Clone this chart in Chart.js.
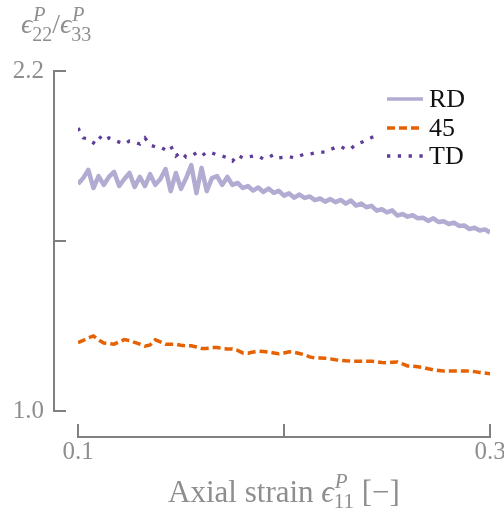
<!DOCTYPE html>
<html>
<head>
<meta charset="utf-8">
<script src="https://cdn.jsdelivr.net/npm/chart.js@4/dist/chart.umd.min.js"></script>
<style>
  html, body { margin: 0; padding: 0; background: #ffffff; }
  #wrap { width: 504px; height: 512px; }
</style>
</head>
<body>
<div id="wrap"><canvas id="c" width="504" height="512"></canvas></div>
<script>
// Axial plastic strain samples
const strain = [
  0.1000, 0.1025, 0.1050, 0.1075, 0.1100, 0.1125, 0.1150, 0.1175, 0.1200, 0.1225,
  0.1250, 0.1275, 0.1300, 0.1325, 0.1350, 0.1375, 0.1400, 0.1425, 0.1450, 0.1475,
  0.1500, 0.1525, 0.1550, 0.1575, 0.1600, 0.1625, 0.1650, 0.1675, 0.1700, 0.1725,
  0.1750, 0.1775, 0.1800, 0.1825, 0.1850, 0.1875, 0.1900, 0.1925, 0.1950, 0.1975,
  0.2000, 0.2025, 0.2050, 0.2075, 0.2100, 0.2125, 0.2150, 0.2175, 0.2200, 0.2225,
  0.2250, 0.2275, 0.2300, 0.2325, 0.2350, 0.2375, 0.2400, 0.2425, 0.2450, 0.2475,
  0.2500, 0.2525, 0.2550, 0.2575, 0.2600, 0.2625, 0.2650, 0.2675, 0.2700, 0.2725,
  0.2750, 0.2775, 0.2800, 0.2825, 0.2850, 0.2875, 0.2900, 0.2925, 0.2950, 0.2975,
  0.3000
];

// Strain ratio eps22/eps33 per loading direction
const rd = [
  1.801, 1.822, 1.851, 1.787, 1.829, 1.798, 1.826, 1.844, 1.794, 1.819,
  1.840, 1.791, 1.826, 1.794, 1.836, 1.798, 1.819, 1.854, 1.776, 1.840,
  1.784, 1.822, 1.868, 1.769, 1.858, 1.776, 1.822, 1.829, 1.798, 1.826,
  1.798, 1.805, 1.787, 1.794, 1.778, 1.789, 1.773, 1.785, 1.770, 1.777,
  1.760, 1.768, 1.753, 1.764, 1.752, 1.757, 1.744, 1.750, 1.739, 1.748,
  1.737, 1.745, 1.732, 1.743, 1.725, 1.732, 1.719, 1.724, 1.707, 1.712,
  1.701, 1.708, 1.690, 1.695, 1.686, 1.691, 1.680, 1.682, 1.671, 1.680,
  1.667, 1.670, 1.660, 1.665, 1.653, 1.655, 1.642, 1.647, 1.637, 1.641,
  1.630
];
const deg45 = [
  1.241, 1.249, 1.258, 1.265, 1.251, 1.240, 1.238, 1.236, 1.244, 1.252,
  1.249, 1.242, 1.236, 1.229, 1.233, 1.251, 1.244, 1.236, 1.236, 1.236,
  1.232, 1.230, 1.230, 1.226, 1.221, 1.221, 1.224, 1.224, 1.221, 1.219,
  1.219, 1.214, 1.205, 1.204, 1.208, 1.211, 1.210, 1.208, 1.205, 1.202,
  1.205, 1.209, 1.207, 1.203, 1.198, 1.191, 1.187, 1.187, 1.186, 1.184,
  1.181, 1.179, 1.177, 1.176, 1.176, 1.176, 1.176, 1.176, 1.174, 1.171,
  1.170, 1.172, 1.173, 1.166, 1.159, 1.158, 1.156, 1.154, 1.149, 1.145,
  1.143, 1.141, 1.141, 1.141, 1.141, 1.141, 1.141, 1.139, 1.136, 1.134,
  1.131
];
const td = [
  1.999, 1.964, 1.960, 1.946, 1.971, 1.953, 1.964, 1.956, 1.949, 1.942,
  1.953, 1.949, 1.942, 1.964, 1.939, 1.932, 1.932, 1.921, 1.935, 1.900,
  1.914, 1.896, 1.900, 1.911, 1.900, 1.914, 1.911, 1.904, 1.900, 1.893,
  1.882, 1.904, 1.893, 1.896, 1.900, 1.900, 1.889, 1.895, 1.905, 1.893,
  1.896, 1.898, 1.893, 1.900, 1.907, 1.907, 1.911, 1.914, 1.914, 1.923,
  1.930, 1.934, 1.923, 1.926, 1.942, 1.948, 1.956, 1.965, 1.972
];

const seriesNames = ['RD', '45', 'TD'];
const xTicks = [0.1, 0.2, 0.3];
const xTickLabels = ['0.1', '', '0.3'];
const yTicks = [1.0, 1.6, 2.2];
const yTickLabels = ['1.0', '', '2.2'];

const SERIF = '"Liberation Serif", "DejaVu Serif", serif';
const GREY_TEXT = '#8e8e8e';
const GREY_AXIS = '#808080';

function pairs(values) {
  return values.map((v, i) => ({ x: strain[i], y: v }));
}

// Offset spines with inward ticks
const spinePlugin = {
  id: 'spines',
  afterDraw(chart) {
    const { ctx, chartArea, scales } = chart;
    const xs = scales.x, ys = scales.y;
    ctx.save();
    ctx.strokeStyle = GREY_AXIS;
    ctx.lineWidth = 2;
    ctx.lineCap = 'square';
    const yx = chartArea.left - 24;
    ctx.beginPath();
    ctx.moveTo(yx, ys.getPixelForValue(yTicks[yTicks.length - 1]));
    ctx.lineTo(yx, ys.getPixelForValue(yTicks[0]));
    yTicks.forEach(v => {
      const p = ys.getPixelForValue(v);
      ctx.moveTo(yx, p);
      ctx.lineTo(yx + 11, p);
    });
    const xy = chartArea.bottom + 26;
    ctx.moveTo(xs.getPixelForValue(xTicks[0]), xy);
    ctx.lineTo(xs.getPixelForValue(xTicks[xTicks.length - 1]), xy);
    xTicks.forEach(v => {
      const p = xs.getPixelForValue(v);
      ctx.moveTo(p, xy);
      ctx.lineTo(p, xy - 12);
    });
    ctx.stroke();
    ctx.restore();
  }
};

// Writes a run of text pieces, with optional super/subscript stacks
function drawMath(ctx, pieces, x, y, measureOnly) {
  let cx = x;
  pieces.forEach(p => {
    if (p.t !== undefined) {
      ctx.font = (p.italic ? 'italic ' : '') + p.size + 'px ' + SERIF;
      if (!measureOnly) ctx.fillText(p.t, cx, y);
      cx += ctx.measureText(p.t).width;
    } else {
      ctx.font = 'italic ' + p.size + 'px ' + SERIF;
      const wSup = ctx.measureText(p.sup).width;
      if (!measureOnly) ctx.fillText(p.sup, cx + (p.supShift || 0), y + p.supDy);
      ctx.font = p.size + 'px ' + SERIF;
      const wSub = ctx.measureText(p.sub).width;
      if (!measureOnly) ctx.fillText(p.sub, cx, y + p.subDy);
      cx += Math.max(wSup + (p.supShift || 0), wSub);
    }
  });
  return cx - x;
}

const titlePlugin = {
  id: 'axisTitles',
  afterDraw(chart) {
    const { ctx, scales } = chart;
    ctx.save();
    ctx.fillStyle = GREY_TEXT;
    ctx.textBaseline = 'alphabetic';
    ctx.textAlign = 'left';
    // y-axis title
    const yTitle = [
      { t: '\u03F5', size: 28, italic: true },
      { sup: 'P', sub: '22', size: 20, supDy: -12, subDy: 8, supShift: 1 },
      { t: '/', size: 28 },
      { t: '\u03F5', size: 28, italic: true },
      { sup: 'P', sub: '33', size: 20, supDy: -12, subDy: 8, supShift: 1 }
    ];
    drawMath(ctx, yTitle, 21, 33);
    // x-axis title, centred under the axis
    const xTitle = [
      { t: 'Axial strain ', size: 31 },
      { t: '\u03F5', size: 31, italic: true },
      { sup: 'P', sub: '11', size: 21, supDy: -14, subDy: 6, supShift: 1 },
      { t: ' [\u2212]', size: 31 }
    ];
    const w = drawMath(ctx, xTitle, 0, 0, true);
    const cx = scales.x.getPixelForValue(0.2);
    drawMath(ctx, xTitle, cx - w / 2, 502);
    ctx.restore();
  }
};

// Legend drawn inside the plot area, top right
const legendPlugin = {
  id: 'insideLegend',
  afterDraw(chart) {
    const { ctx, chartArea } = chart;
    const x0 = chartArea.right - 103, x1 = chartArea.right - 67;
    const tx = chartArea.right - 61;
    const baselines = [chartArea.top + 36, chartArea.top + 65, chartArea.top + 93];
    ctx.save();
    chart.data.datasets.forEach((ds, i) => {
      const yLine = baselines[i] - 8;
      ctx.strokeStyle = ds.borderColor;
      ctx.lineWidth = Math.min(ds.borderWidth, 3.5);
      ctx.lineCap = 'butt';
      ctx.setLineDash(ds.borderDash || []);
      ctx.beginPath();
      ctx.moveTo(x0, yLine);
      ctx.lineTo(x1, yLine);
      ctx.stroke();
      ctx.setLineDash([]);
      ctx.fillStyle = '#111111';
      ctx.font = '26px ' + SERIF;
      ctx.textBaseline = 'alphabetic';
      ctx.fillText(ds.label, tx, baselines[i]);
    });
    ctx.restore();
  }
};

new Chart(document.getElementById('c'), {
  type: 'line',
  data: {
    datasets: [
      {
        label: seriesNames[0], data: pairs(rd),
        borderColor: '#b2abd2', borderWidth: 4.5, borderJoinStyle: 'round',
        pointRadius: 0, tension: 0
      },
      {
        label: seriesNames[1], data: pairs(deg45),
        borderColor: '#e66101', borderWidth: 3.5, borderDash: [8, 4],
        borderCapStyle: 'butt', pointRadius: 0, tension: 0
      },
      {
        label: seriesNames[2], data: pairs(td),
        borderColor: '#5e3c99', borderWidth: 3.3, borderDash: [3.3, 7.5],
        borderCapStyle: 'butt', pointRadius: 0, tension: 0
      }
    ]
  },
  options: {
    responsive: false,
    animation: false,
    events: [],
    layout: { padding: { left: 0, right: 14, top: 71, bottom: 0 } },
    plugins: { legend: { display: false }, tooltip: { enabled: false }, title: { display: false } },
    scales: {
      x: {
        type: 'linear', min: 0.1, max: 0.3,
        afterBuildTicks: s => { s.ticks = xTicks.map(v => ({ value: v })); },
        afterFit: s => { s.height = 101; s.paddingLeft = 0; s.paddingRight = 0; },
        ticks: {
          callback: (v, i) => xTickLabels[i],
          autoSkip: false, maxRotation: 0, padding: 26,
          color: GREY_TEXT, font: { family: SERIF, size: 25 }
        },
        grid: { display: false, drawTicks: false },
        border: { display: false }
      },
      y: {
        type: 'linear', min: 1.0, max: 2.2,
        afterBuildTicks: s => { s.ticks = yTicks.map(v => ({ value: v })); },
        afterFit: s => { s.width = 78; s.paddingTop = 0; s.paddingBottom = 0; },
        ticks: {
          callback: (v, i) => yTickLabels[i],
          autoSkip: false, padding: 34,
          color: GREY_TEXT, font: { family: SERIF, size: 25 }
        },
        grid: { display: false, drawTicks: false },
        border: { display: false }
      }
    }
  },
  plugins: [spinePlugin, titlePlugin, legendPlugin]
});
</script>
</body>
</html>
